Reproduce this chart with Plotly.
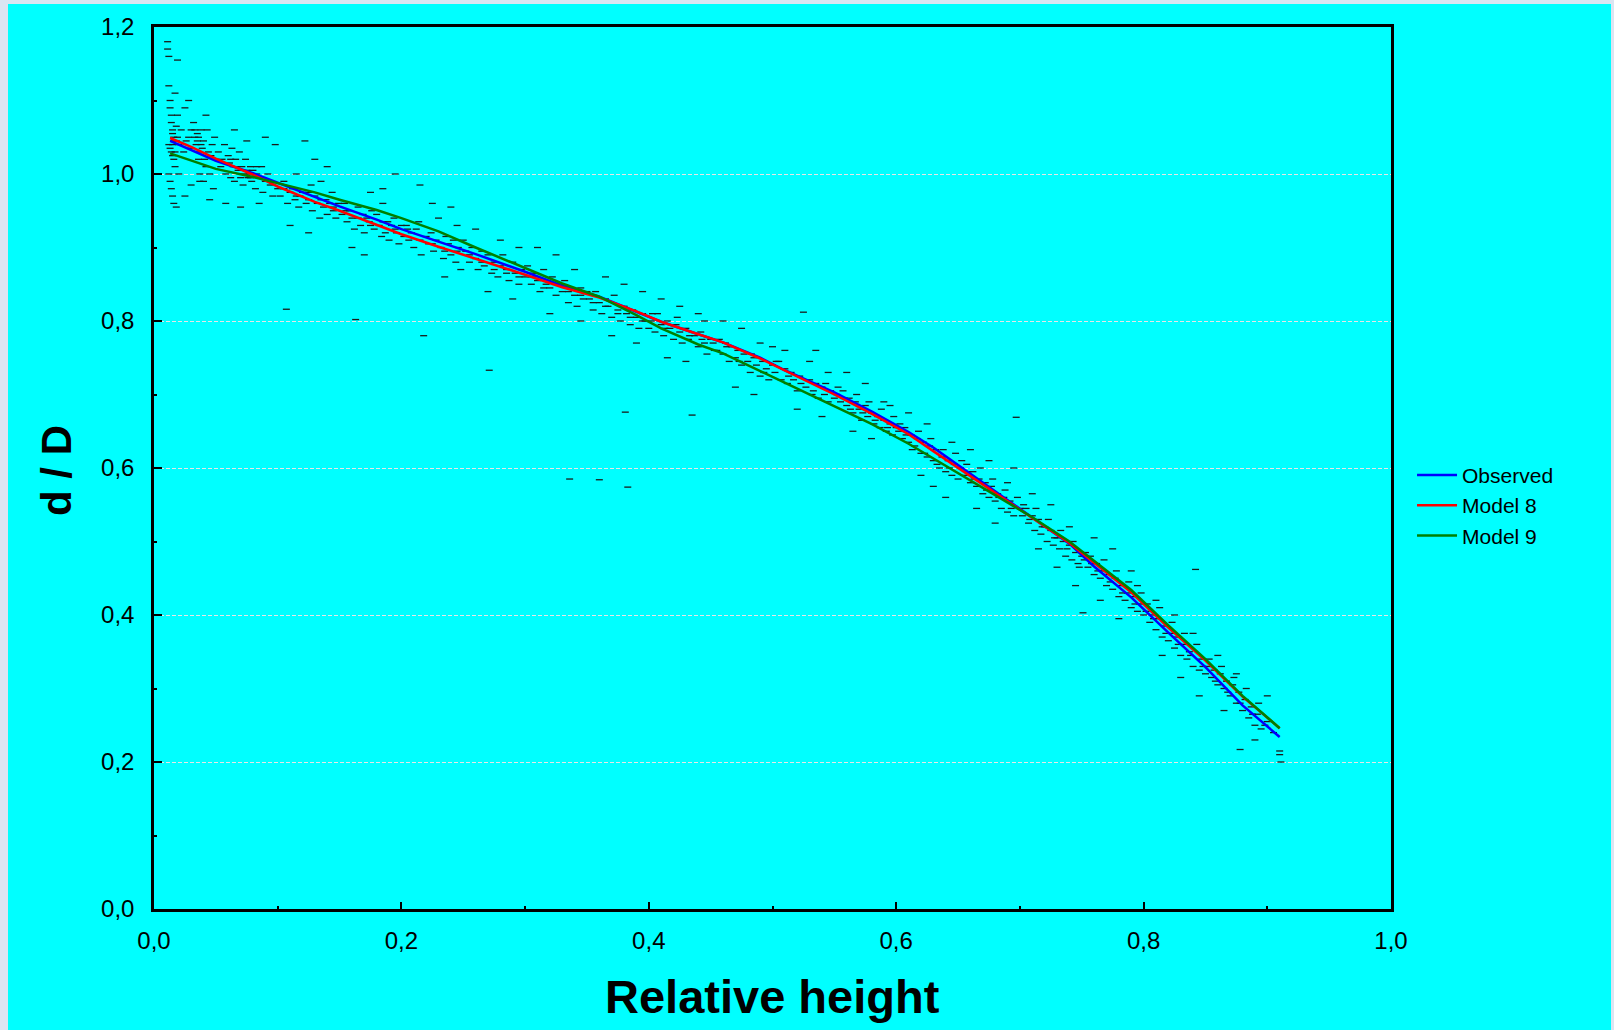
import plotly.graph_objects as go

# ---------------- data ----------------
curve_x = [0.013, 0.03, 0.05, 0.08, 0.10, 0.13, 0.15, 0.18, 0.20, 0.23, 0.26, 0.30, 0.33,
           0.36, 0.39, 0.41, 0.44, 0.46, 0.49, 0.51, 0.55, 0.58, 0.61, 0.63, 0.66, 0.69,
           0.71, 0.74, 0.76, 0.79, 0.82, 0.85, 0.88, 0.91]
observed = [1.045, 1.033, 1.018, 1.001, 0.988, 0.969, 0.956, 0.938, 0.925, 0.908, 0.891,
            0.867, 0.848, 0.833, 0.813, 0.799, 0.782, 0.771, 0.750, 0.733, 0.703, 0.677,
            0.649, 0.628, 0.592, 0.556, 0.533, 0.497, 0.466, 0.424, 0.376, 0.329, 0.277, 0.234]
model8 = [1.049, 1.037, 1.021, 0.999, 0.983, 0.962, 0.950, 0.931, 0.918, 0.901, 0.885,
          0.863, 0.846, 0.832, 0.813, 0.799, 0.782, 0.771, 0.749, 0.733, 0.700, 0.674,
          0.646, 0.623, 0.589, 0.555, 0.533, 0.498, 0.471, 0.431, 0.383, 0.338, 0.289, 0.246]
model9 = [1.028, 1.018, 1.007, 0.996, 0.988, 0.975, 0.965, 0.951, 0.940, 0.922, 0.900,
          0.872, 0.851, 0.833, 0.808, 0.790, 0.768, 0.756, 0.732, 0.715, 0.684, 0.660,
          0.633, 0.613, 0.583, 0.553, 0.533, 0.500, 0.474, 0.434, 0.386, 0.340, 0.290, 0.246]

points = [
    (0.011,1.18),(0.011,1.17),(0.012,1.16),(0.012,1.12),(0.013,1.10),(0.013,1.09),(0.014,1.08),
    (0.014,1.07),(0.015,1.06),(0.015,1.055),(0.016,1.05),(0.016,1.045),(0.012,1.04),(0.013,1.035),
    (0.014,1.03),(0.015,1.025),(0.016,1.02),(0.017,1.01),(0.012,1.0),(0.013,0.99),(0.014,0.98),
    (0.015,0.97),(0.016,0.96),(0.018,0.955),(0.019,1.05),(0.02,1.04),(0.018,1.065),(0.019,1.08),
    (0.017,1.11),(0.02,1.0),(0.019,1.155),
    (0.022,1.06),(0.024,1.03),(0.025,1.09),(0.026,1.045),(0.028,1.05),(0.03,1.06),(0.03,1.035),
    (0.032,1.07),(0.033,1.05),(0.034,1.04),(0.035,1.055),(0.035,1.045),(0.036,1.03),(0.036,1.02),
    (0.037,1.00),(0.037,0.99),(0.038,1.06),(0.039,1.035),(0.04,1.045),(0.041,1.02),(0.042,1.01),
    (0.043,1.06),(0.044,1.03),(0.045,1.0),(0.046,1.025),(0.047,1.04),(0.048,0.98),(0.049,1.05),
    (0.025,0.97),(0.03,0.985),(0.045,0.965),(0.04,0.99),(0.05,1.02),(0.028,1.1),(0.042,1.08),
    (0.052,1.03),(0.054,1.01),(0.055,1.02),(0.057,1.04),(0.058,1.0),(0.06,1.025),(0.061,1.015),
    (0.062,0.995),(0.063,1.035),(0.064,1.01),(0.065,0.99),(0.066,1.02),(0.068,1.005),(0.069,1.03),
    (0.07,0.995),(0.071,1.01),(0.072,0.985),(0.074,1.02),(0.075,1.005),(0.076,0.995),(0.077,1.0),
    (0.078,1.01),(0.079,0.99),(0.08,1.005),(0.082,0.98),(0.083,1.0),(0.085,0.995),(0.087,1.01),
    (0.088,0.975),(0.09,0.99),(0.092,1.0),(0.094,0.985),(0.096,0.97),(0.098,1.04),(0.1,0.98),
    (0.058,0.96),(0.07,0.955),(0.085,0.96),(0.065,1.06),(0.09,1.05),(0.075,1.045),
    (0.102,0.97),(0.105,0.99),(0.107,0.816),(0.108,0.96),(0.11,0.975),(0.112,0.98),(0.114,0.965),
    (0.115,1.0),(0.117,0.955),(0.118,0.97),(0.12,0.975),(0.122,1.045),(0.123,0.96),(0.125,0.965),
    (0.127,0.985),(0.128,0.95),(0.13,0.97),(0.132,0.96),(0.134,0.94),(0.135,0.99),(0.137,0.955),
    (0.139,0.965),(0.14,0.945),(0.142,0.96),(0.144,0.975),(0.145,0.95),(0.147,0.94),(0.149,0.96),
    (0.11,0.93),(0.125,0.92),(0.14,1.01),(0.13,1.02),
    (0.152,0.945),(0.154,0.96),(0.156,0.935),(0.158,0.95),(0.16,0.94),(0.162,0.925),(0.163,0.802),
    (0.165,0.955),(0.167,0.93),(0.169,0.945),(0.17,0.92),(0.172,0.94),(0.174,0.935),(0.176,0.95),
    (0.178,0.925),(0.18,0.945),(0.182,0.93),(0.184,0.915),(0.185,0.96),(0.187,0.92),(0.189,0.935),
    (0.19,0.91),(0.192,0.93),(0.194,0.94),(0.196,0.92),(0.198,0.905),(0.2,0.93),(0.17,0.89),
    (0.185,0.98),(0.16,0.9),(0.195,1.0),(0.175,0.975),
    (0.202,0.915),(0.204,0.93),(0.206,0.91),(0.208,0.92),(0.21,0.9),(0.212,0.925),(0.214,0.935),
    (0.216,0.89),(0.218,0.78),(0.22,0.915),(0.222,0.905),(0.224,0.92),(0.226,0.895),(0.228,0.91),
    (0.23,0.94),(0.232,0.9),(0.234,0.885),(0.236,0.915),(0.238,0.905),(0.24,0.89),(0.242,0.91),
    (0.244,0.88),(0.246,0.9),(0.248,0.87),(0.25,0.91),(0.225,0.96),(0.24,0.955),(0.235,0.86),
    (0.215,0.985),(0.245,0.93),
    (0.252,0.895),(0.255,0.88),(0.257,0.9),(0.26,0.885),(0.262,0.87),(0.265,0.895),(0.267,0.875),
    (0.27,0.89),(0.271,0.733),(0.273,0.865),(0.275,0.88),(0.278,0.86),(0.28,0.875),(0.282,0.89),
    (0.285,0.87),(0.287,0.855),(0.29,0.88),(0.292,0.865),(0.295,0.85),(0.297,0.87),(0.3,0.86),
    (0.26,0.925),(0.28,0.91),(0.29,0.83),(0.27,0.84),(0.295,0.9),
    (0.302,0.875),(0.305,0.85),(0.307,0.865),(0.31,0.855),(0.312,0.84),(0.315,0.87),(0.317,0.85),
    (0.32,0.845),(0.322,0.86),(0.325,0.835),(0.327,0.85),(0.33,0.84),(0.332,0.855),(0.335,0.825),
    (0.336,0.585),(0.338,0.845),(0.34,0.835),(0.342,0.82),(0.345,0.845),(0.347,0.83),(0.35,0.84),
    (0.31,0.9),(0.325,0.89),(0.34,0.87),(0.32,0.81),(0.345,0.8),
    (0.352,0.83),(0.355,0.815),(0.357,0.84),(0.36,0.825),(0.36,0.584),(0.362,0.81),(0.365,0.83),
    (0.367,0.82),(0.37,0.805),(0.372,0.835),(0.375,0.815),(0.377,0.8),(0.38,0.82),(0.381,0.676),
    (0.382,0.81),(0.383,0.574),(0.385,0.795),(0.387,0.815),(0.39,0.805),(0.392,0.79),(0.395,0.81),
    (0.397,0.8),(0.4,0.79),(0.365,0.86),(0.38,0.85),(0.39,0.77),(0.37,0.78),(0.395,0.84),
    (0.402,0.8),(0.405,0.785),(0.407,0.81),(0.41,0.795),(0.412,0.78),(0.415,0.8),(0.417,0.79),
    (0.42,0.775),(0.422,0.795),(0.425,0.785),(0.427,0.77),(0.43,0.79),(0.432,0.775),(0.435,0.672),
    (0.437,0.78),(0.44,0.765),(0.442,0.785),(0.445,0.77),(0.447,0.755),(0.45,0.775),(0.41,0.83),
    (0.425,0.82),(0.44,0.81),(0.415,0.75),(0.43,0.745),(0.445,0.8),
    (0.452,0.77),(0.455,0.76),(0.457,0.775),(0.46,0.755),(0.462,0.77),(0.465,0.745),(0.467,0.765),
    (0.47,0.75),(0.472,0.76),(0.475,0.74),(0.477,0.755),(0.48,0.745),(0.482,0.73),(0.485,0.75),
    (0.487,0.74),(0.49,0.725),(0.492,0.745),(0.495,0.735),(0.497,0.72),(0.5,0.74),(0.46,0.8),
    (0.475,0.79),(0.49,0.77),(0.47,0.71),(0.485,0.7),(0.5,0.765),
    (0.502,0.73),(0.505,0.745),(0.507,0.72),(0.51,0.735),(0.512,0.715),(0.515,0.73),(0.517,0.72),
    (0.52,0.705),(0.522,0.725),(0.525,0.812),(0.527,0.71),(0.53,0.72),(0.532,0.7),(0.535,0.715),
    (0.537,0.695),(0.54,0.71),(0.542,0.7),(0.545,0.69),(0.547,0.705),(0.55,0.695),(0.51,0.76),
    (0.53,0.745),(0.545,0.73),(0.52,0.68),(0.54,0.67),(0.535,0.76),
    (0.552,0.7),(0.555,0.69),(0.557,0.705),(0.56,0.685),(0.562,0.695),(0.565,0.675),(0.567,0.69),
    (0.57,0.68),(0.572,0.665),(0.575,0.685),(0.577,0.67),(0.58,0.675),(0.582,0.66),(0.585,0.67),
    (0.587,0.655),(0.59,0.665),(0.592,0.65),(0.595,0.66),(0.597,0.645),(0.6,0.655),(0.56,0.73),
    (0.575,0.715),(0.59,0.69),(0.565,0.65),(0.58,0.64),(0.595,0.685),
    (0.602,0.65),(0.605,0.64),(0.607,0.655),(0.61,0.635),(0.612,0.645),(0.615,0.63),(0.617,0.64),
    (0.62,0.62),(0.622,0.635),(0.625,0.615),(0.627,0.63),(0.63,0.61),(0.632,0.625),(0.635,0.6),
    (0.637,0.615),(0.64,0.595),(0.642,0.61),(0.645,0.59),(0.647,0.605),(0.65,0.585),(0.61,0.675),
    (0.625,0.66),(0.64,0.56),(0.62,0.59),(0.645,0.635),(0.63,0.575),
    (0.652,0.6),(0.655,0.59),(0.657,0.605),(0.66,0.58),(0.662,0.595),(0.665,0.575),(0.667,0.585),
    (0.67,0.565),(0.672,0.58),(0.675,0.56),(0.677,0.575),(0.68,0.555),(0.682,0.565),(0.685,0.545),
    (0.687,0.56),(0.69,0.54),(0.692,0.555),(0.695,0.535),(0.697,0.669),(0.7,0.545),(0.66,0.625),
    (0.675,0.61),(0.69,0.58),(0.665,0.545),(0.68,0.525),(0.695,0.6),
    (0.702,0.535),(0.705,0.545),(0.707,0.525),(0.71,0.535),(0.712,0.515),(0.715,0.53),(0.717,0.51),
    (0.72,0.52),(0.722,0.5),(0.725,0.515),(0.727,0.495),(0.73,0.505),(0.732,0.49),(0.735,0.5),
    (0.737,0.48),(0.74,0.495),(0.742,0.475),(0.745,0.485),(0.747,0.47),(0.75,0.48),(0.751,0.403),
    (0.71,0.565),(0.725,0.55),(0.74,0.52),(0.715,0.49),(0.73,0.465),(0.745,0.44),
    (0.752,0.475),(0.755,0.465),(0.757,0.48),(0.76,0.455),(0.762,0.47),(0.765,0.45),(0.767,0.46),
    (0.77,0.44),(0.772,0.455),(0.775,0.435),(0.777,0.45),(0.78,0.425),(0.782,0.44),(0.785,0.42),
    (0.787,0.43),(0.79,0.41),(0.792,0.425),(0.795,0.405),(0.797,0.415),(0.8,0.4),(0.76,0.505),
    (0.775,0.49),(0.79,0.46),(0.765,0.42),(0.78,0.395),(0.795,0.44),
    (0.802,0.405),(0.805,0.39),(0.807,0.4),(0.81,0.38),(0.812,0.395),(0.815,0.37),(0.817,0.385),
    (0.82,0.365),(0.822,0.375),(0.825,0.355),(0.827,0.37),(0.83,0.345),(0.832,0.36),(0.835,0.34),
    (0.837,0.35),(0.84,0.33),(0.842,0.462),(0.845,0.325),(0.847,0.34),(0.85,0.32),(0.81,0.42),
    (0.825,0.4),(0.84,0.375),(0.815,0.345),(0.83,0.315),(0.845,0.29),
    (0.852,0.33),(0.855,0.315),(0.857,0.325),(0.86,0.305),(0.862,0.32),(0.865,0.3),(0.867,0.31),
    (0.87,0.29),(0.872,0.305),(0.875,0.28),(0.877,0.295),(0.878,0.217),(0.88,0.27),(0.882,0.285),
    (0.885,0.26),(0.887,0.275),(0.89,0.25),(0.892,0.265),(0.895,0.245),(0.9,0.255),(0.905,0.24),
    (0.91,0.21),(0.911,0.2),(0.86,0.345),(0.875,0.32),(0.865,0.27),(0.89,0.23),(0.9,0.29),(0.91,0.215),
    # second pass, denser band close to the curves
    (0.015,1.04),(0.017,1.03),(0.018,1.045),(0.033,1.06),(0.036,1.05),(0.038,1.04),(0.062,1.02),
    (0.067,1.01),(0.073,1.0),(0.078,0.995),(0.083,1.01),(0.105,0.98),(0.115,0.97),(0.125,0.975),
    (0.135,0.965),(0.145,0.955),(0.155,0.95),(0.165,0.94),(0.175,0.93),(0.185,0.935),(0.195,0.925),
    (0.205,0.925),(0.215,0.91),(0.225,0.905),(0.235,0.895),(0.245,0.895),(0.255,0.89),(0.265,0.88),
    (0.275,0.87),(0.285,0.865),(0.295,0.86),(0.305,0.86),(0.315,0.845),(0.325,0.85),(0.335,0.84),
    (0.345,0.835),(0.355,0.825),(0.365,0.82),(0.375,0.81),(0.385,0.805),(0.395,0.8),
    (0.403,0.81),(0.413,0.79),(0.423,0.805),(0.433,0.78),(0.443,0.775),(0.453,0.76),(0.463,0.765),
    (0.473,0.745),(0.483,0.755),(0.493,0.73),(0.503,0.745),(0.513,0.725),(0.523,0.715),(0.533,0.705),
    (0.543,0.715),
    (0.553,0.71),(0.558,0.695),(0.563,0.68),(0.568,0.7),(0.573,0.675),(0.578,0.69),(0.583,0.665),
    (0.588,0.68),(0.593,0.655),(0.598,0.67),(0.603,0.66),(0.608,0.645),(0.613,0.625),(0.618,0.65),
    (0.623,0.62),(0.628,0.64),(0.633,0.605),(0.638,0.625),(0.643,0.6),(0.648,0.62),(0.653,0.61),
    (0.658,0.595),(0.663,0.585),(0.668,0.6),(0.673,0.57),(0.678,0.585),(0.683,0.56),(0.688,0.57),
    (0.693,0.545),(0.698,0.56),(0.703,0.55),(0.708,0.53),(0.713,0.545),(0.718,0.52),(0.723,0.53),
    (0.728,0.505),(0.733,0.515),(0.738,0.49),(0.743,0.5),(0.748,0.465),(0.753,0.485),(0.758,0.47),
    (0.763,0.46),(0.768,0.475),(0.773,0.445),(0.778,0.46),(0.783,0.43),(0.788,0.445),(0.793,0.415),
    (0.798,0.43),(0.803,0.415),(0.808,0.395),(0.813,0.41),(0.818,0.375),(0.823,0.39),(0.828,0.36),
    (0.833,0.375),(0.838,0.345),(0.843,0.36),(0.848,0.33),(0.853,0.34),(0.858,0.31),(0.863,0.33),
    (0.868,0.295),(0.873,0.315),(0.878,0.28),(0.883,0.3),(0.888,0.265),(0.893,0.28),(0.898,0.25),
]
obs_x = [p[0] for p in points]
obs_y = [p[1] for p in points]

x_ticks = [0.0, 0.2, 0.4, 0.6, 0.8, 1.0]
y_ticks = [0.0, 0.2, 0.4, 0.6, 0.8, 1.0, 1.2]

FONT = "Liberation Sans, Arial, sans-serif"
CYAN = "#00FFFF"

fig = go.Figure()

fig.add_trace(go.Scatter(
    x=obs_x, y=obs_y, mode="markers", showlegend=False, hoverinfo="skip",
    marker=dict(symbol="line-ew", size=5, color="#1a1a1a",
                line=dict(width=1.3, color="#1a1a1a")),
))
fig.add_trace(go.Scatter(x=curve_x, y=observed, mode="lines", name="Observed",
                         line=dict(color="#0000FF", width=2.5)))
fig.add_trace(go.Scatter(x=curve_x, y=model8, mode="lines", name="Model 8",
                         line=dict(color="#FF0000", width=2.5)))
fig.add_trace(go.Scatter(x=curve_x, y=model9, mode="lines", name="Model 9",
                         line=dict(color="#008000", width=2.5)))

# outer page background panel (cyan sheet over a pale backdrop)
fig.add_shape(type="rect", xref="paper", yref="paper", layer="below",
              x0=(8 - 154) / 1237, x1=(1611 - 154) / 1237,
              y0=(909 - 1040) / 882, y1=(909 - 4) / 882,
              fillcolor=CYAN, line=dict(width=0))

fig.update_layout(
    width=1614, height=1030,
    margin=dict(l=154, r=223, t=27, b=121),
    paper_bgcolor="#dbe5f2",
    plot_bgcolor=CYAN,
    separators=", ",
    font=dict(family=FONT, color="black", size=22),
    showlegend=True,
    legend=dict(x=1.017, y=0.515, xanchor="left", yanchor="top",
                bgcolor="rgba(0,0,0,0)", font=dict(size=21, family=FONT),
                tracegroupgap=0, itemwidth=40),
    xaxis=dict(range=[0, 1], tickvals=x_ticks, tickformat=".1f",
               showgrid=False, zeroline=False,
               showline=True, linecolor="black", linewidth=2.5, mirror=True,
               ticks="inside", ticklen=7, tickwidth=2, tickcolor="black",
               minor=dict(dtick=0.1, ticks="inside", ticklen=3, tickwidth=2, tickcolor="black"),
               tickfont=dict(size=24, family=FONT), ticklabelstandoff=8),
    yaxis=dict(range=[0, 1.2], tickvals=y_ticks, tickformat=".1f",
               showgrid=True, gridcolor="#e6e6e6", gridwidth=1, griddash="4px,2px",
               zeroline=False,
               showline=True, linecolor="black", linewidth=2.5, mirror=True,
               ticks="inside", ticklen=8, tickwidth=2, tickcolor="black",
               minor=dict(dtick=0.1, ticks="inside", ticklen=3, tickwidth=2, tickcolor="black"),
               tickfont=dict(size=24, family=FONT), ticklabelstandoff=12),
    annotations=[
        dict(text="<b>Relative height</b>", xref="paper", yref="paper",
             x=0.5, y=(909 - 996) / 882, xanchor="center", yanchor="middle",
             showarrow=False, font=dict(size=47, family=FONT, color="black")),
        dict(text="<b>d / D</b>", xref="paper", yref="paper", textangle=-90,
             x=(56 - 154) / 1237, y=(909 - 471) / 882, xanchor="center", yanchor="middle",
             showarrow=False, font=dict(size=42, family=FONT, color="black")),
    ],
)

fig.write_html("out.html")
